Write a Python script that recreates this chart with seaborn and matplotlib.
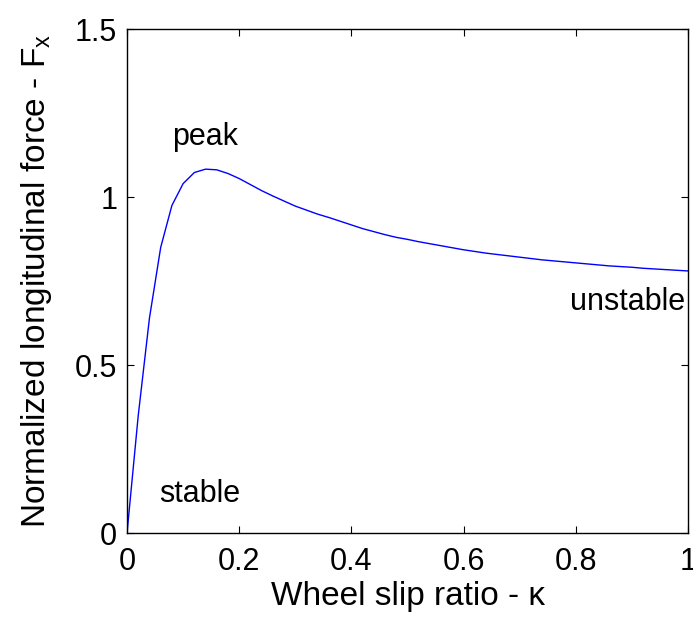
import numpy as np
import pandas as pd
import matplotlib
matplotlib.use("Agg")
import matplotlib.pyplot as plt
import seaborn as sns

# wheel slip ratio, sampled every 0.02
slip = [round(0.02 * i, 2) for i in range(51)]
force = [0.000, 0.350, 0.640, 0.850, 0.975, 1.040, 1.073, 1.083, 1.081, 1.070,
         1.055, 1.037, 1.019, 1.003, 0.988, 0.973, 0.961, 0.949, 0.939, 0.928,
         0.917, 0.906, 0.897, 0.888, 0.880, 0.874, 0.867, 0.861, 0.855, 0.849,
         0.843, 0.838, 0.833, 0.829, 0.825, 0.821, 0.817, 0.813, 0.810, 0.807,
         0.804, 0.801, 0.798, 0.795, 0.793, 0.791, 0.788, 0.786, 0.784, 0.782,
         0.780]

xticks = [0, 0.2, 0.4, 0.6, 0.8, 1]
xtick_labels = ["0", "0.2", "0.4", "0.6", "0.8", "1"]
yticks = [0, 0.5, 1, 1.5]
ytick_labels = ["0", "0.5", "1", "1.5"]

df = pd.DataFrame({"slip": slip, "force": force})

sns.set_style("ticks")
plt.rcParams["font.family"] = ["Liberation Sans", "DejaVu Sans"]
plt.rcParams["mathtext.fontset"] = "custom"
plt.rcParams["mathtext.rm"] = "Liberation Sans"
plt.rcParams["text.color"] = "black"
plt.rcParams["axes.labelcolor"] = "black"

fs = 22
label_fs = 24

fig = plt.figure(figsize=(6.93, 6.18), dpi=100)
ax = fig.add_axes([0.1833, 0.1375, 0.8095, 0.8155])

sns.lineplot(data=df, x="slip", y="force", ax=ax, color="#0000FF", linewidth=1.0)

ax.set_xlim(0, 1)
ax.set_ylim(0, 1.5)
ax.set_xticks(xticks)
ax.set_xticklabels(xtick_labels)
ax.set_yticks(yticks)
ax.set_yticklabels(ytick_labels)
ax.tick_params(direction="in", length=5, width=0.8, labelsize=fs,
               top=True, right=True, colors="black")
ax.tick_params(axis="x", pad=10)
ax.tick_params(axis="y", pad=7)
for s in ax.spines.values():
    s.set_visible(True)
    s.set_linewidth(1.0)
    s.set_color("black")

ax.set_xlabel("Wheel slip ratio - \u03ba", fontsize=label_fs, labelpad=3)
ax.set_ylabel("Normalized longitudinal force - F$_\\mathregular{x}$",
              fontsize=label_fs, labelpad=15)

ax.text(0.139, 1.155, "peak", fontsize=fs, ha="center", va="baseline")
ax.text(0.13, 0.093, "stable", fontsize=fs, ha="center", va="baseline")
ax.text(0.995, 0.664, "unstable", fontsize=fs, ha="right", va="baseline")

fig.savefig("out.png", dpi=100)
